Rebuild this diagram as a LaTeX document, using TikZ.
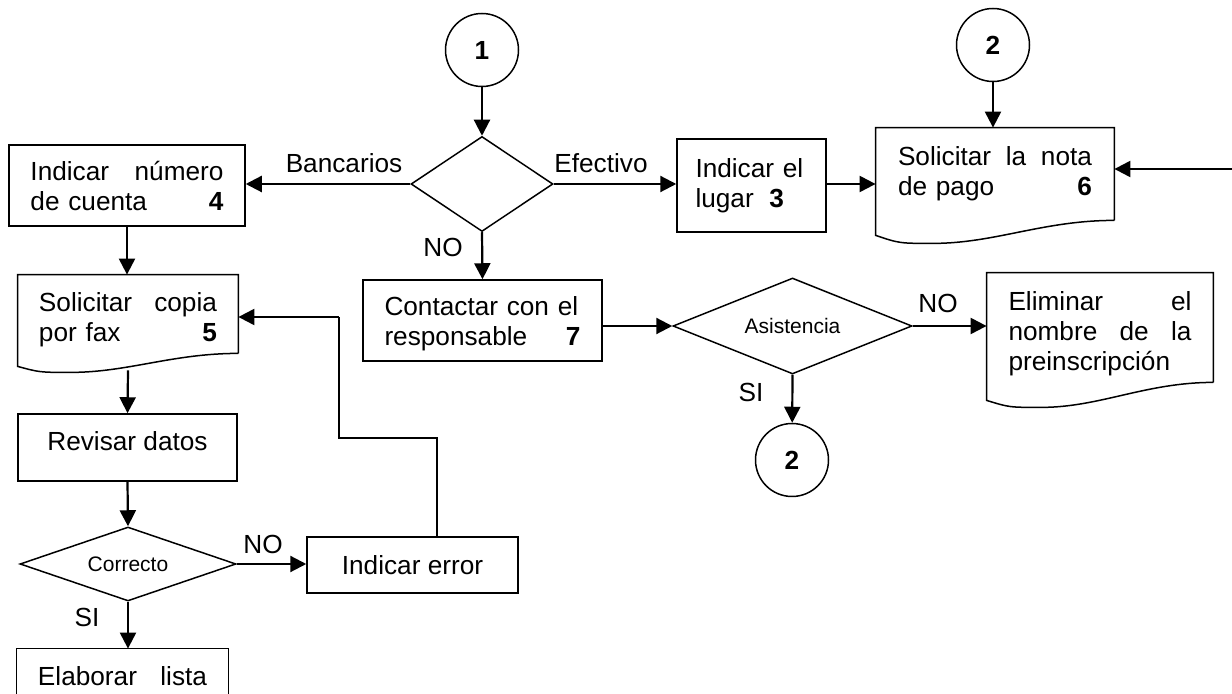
\documentclass[tikz,border=0pt]{standalone}
\usepackage{fontspec}
\setmainfont{Liberation Sans}
\usetikzlibrary{arrows.meta}
\usetikzlibrary{shapes.geometric,calc}

\tikzset{
  txt/.style={font=\fontsize{13.1}{15}\selectfont},
  smalltxt/.style={font=\fontsize{10.5}{12}\selectfont},
  proc/.style={draw, line width=0.75pt, rectangle, inner sep=0pt, txt},
  doc/.style={rectangle, inner sep=0pt, txt},
  dec/.style={draw, line width=0.75pt, diamond, aspect=2.5, inner sep=0pt, smalltxt},
  conn/.style={draw, line width=0.75pt, circle, inner sep=0pt, minimum size=36.5pt, font=\fontsize{13.1}{15}\selectfont\bfseries},
  flow/.style={line width=1.1pt, -{Triangle[length=8pt,width=8pt]}},
  back/.style={line width=0.75pt}
}

% document symbol: box with a wavy bottom edge
\newcommand{\docshape}[3]{%
  \draw[line width=0.75pt] (#1.south east) -- (#1.north east) -- (#1.north west) -- ($(#1.south west)+(0,#2)$)
    .. controls ($(#1.south west)!0.1!(#1.south east)+(0,#3)$) .. ($(#1.south west)!0.24!(#1.south east)+(0,#3)$)
    .. controls ($(#1.south west)!0.5!(#1.south east)+(0,#3)$) and ($(#1.south west)!0.7!(#1.south east)$) .. (#1.south east);}

\begin{document}
\begin{tikzpicture}[x=0.5pt, y=-0.5pt]
	\useasboundingbox (0,0) rectangle (1232,694);

	% upper branch
	\node[conn] (one) at (482,50) {1};
	\node[dec, minimum width=71pt, minimum height=47.5pt] (pay) at (482,184) {};
	\node[proc, minimum width=118pt, minimum height=40.5pt, text width=96.5pt, align=left] (acct) at (127,185.5)
		{Indicar\hfill número\\de cuenta\hfill\textbf{4}\hspace*{1.5pt}};
	\node[proc, minimum width=74.5pt, minimum height=46.5pt, text width=56pt, align=left] (place) at (751.5,185.5)
		{Indicar el\\lugar\hspace{0.6em}\textbf{3}};
	\node[doc, minimum width=119pt, minimum height=46pt, text width=97pt, align=left] (note) at (995,174)
		{Solicitar\hfill la\hfill nota\\de pago\hfill\textbf{6}\hspace*{2pt}};
	\docshape{note}{15}{23}
	\node[conn] (twotop) at (993,45) {2};
	\coordinate (edge) at (1232,169);

	\node[proc, minimum width=119.5pt, minimum height=40.5pt, text width=98pt, align=left] (contact) at (482.5,320.5)
		{\rule{0pt}{13pt}Contactar con el\\responsable\hfill\textbf{7}};
	\node[dec, minimum width=119.5pt, minimum height=48pt] (att) at (792.5,326) {Asistencia};
	\node[doc, minimum width=113pt, minimum height=54.5pt, text width=91.5pt, align=left] (drop) at (1100,327.5)
		{\rule{0pt}{16pt}Eliminar\hfill el\\nombre\hfill de\hfill la\\preinscripción};
	\docshape{drop}{18}{25}
	\node[conn] (twobot) at (792,460) {2};

	% left column
	\node[doc, minimum width=110pt, minimum height=39pt, text width=89pt, align=left] (fax) at (128,314)
		{\rule{0pt}{15pt}Solicitar\hfill copia\\por fax\hfill\textbf{5}\hspace*{5pt}};
	\docshape{fax}{13}{19}
	\node[proc, minimum width=109.5pt, minimum height=33.5pt] (check) at (127.5,447.5)
		{Revisar datos\rule[-6.5pt]{0pt}{6.5pt}};
	\node[dec, minimum width=108pt, minimum height=37pt] (ok) at (128,564) {Correcto};
	\node[proc, minimum width=105.5pt, minimum height=28pt] (err) at (412.5,565) {Indicar error};
	\node[doc, minimum width=105.5pt, minimum height=27pt, text width=84.5pt, align=left] (list) at (122.5,676)
		{Elaborar\hfill lista};
	\coordinate (cut) at (0,694);
	\draw[line width=0.75pt] (list.north west |- cut) -- (list.north west) -- (list.north east) -- (list.north east |- cut);

	% labels
	\node[txt] (lbank) at (344,163) {Bancarios};
	\node[txt] (lcash) at (601,163) {Efectivo};
	\node[txt] (lno1) at (443,247) {NO};
	\node[txt] (lno2) at (938,303) {NO};
	\node[txt] (lsi1) at (751,392) {SI};
	\node[txt] (lno3) at (263,544) {NO};
	\node[txt] (lsi2) at (87,617) {SI};

	% connectors
	\draw[flow] (one) -- (pay);
	\draw[flow] (pay.west) -- (pay.west -| acct.east);
	\draw[flow] (pay.east) -- (pay.east -| place.west);
	\draw[flow] (place.east |- pay.east) -- (pay.east -| note.west);
	\draw[flow] (twotop) -- (twotop |- note.north);
	\draw[flow] (edge) -- (edge -| note.east);
	\draw[flow] (pay.south) -- (contact.north);
	\draw[flow] (contact.east |- att.west) -- (att.west);
	\draw[flow] (att.east) -- (att.east -| drop.west);
	\draw[flow] (att.south) -- (twobot);
	\draw[flow] (acct.south) -- (acct.south |- fax.north);
	\draw[flow] ($(fax.south)+(0,17)$) -- (check.north);
	\draw[flow] (check.south) -- (ok.north);
	\draw[flow] (ok.east) -- (ok.east -| err.west);
	\draw[flow] (ok.south) -- (ok.south |- list.north);

	% return path from the error box
	\coordinate (fb1) at (437,438);
	\coordinate (fb2) at (339,438);
	\coordinate (fb3) at (339,317);
	\draw[back] (fb1 |- err.north) -- (fb1) -- (fb2) -- (fb3);
	\draw[flow] (fb3) -- (fb3 -| fax.east);
\end{tikzpicture}
\end{document}
